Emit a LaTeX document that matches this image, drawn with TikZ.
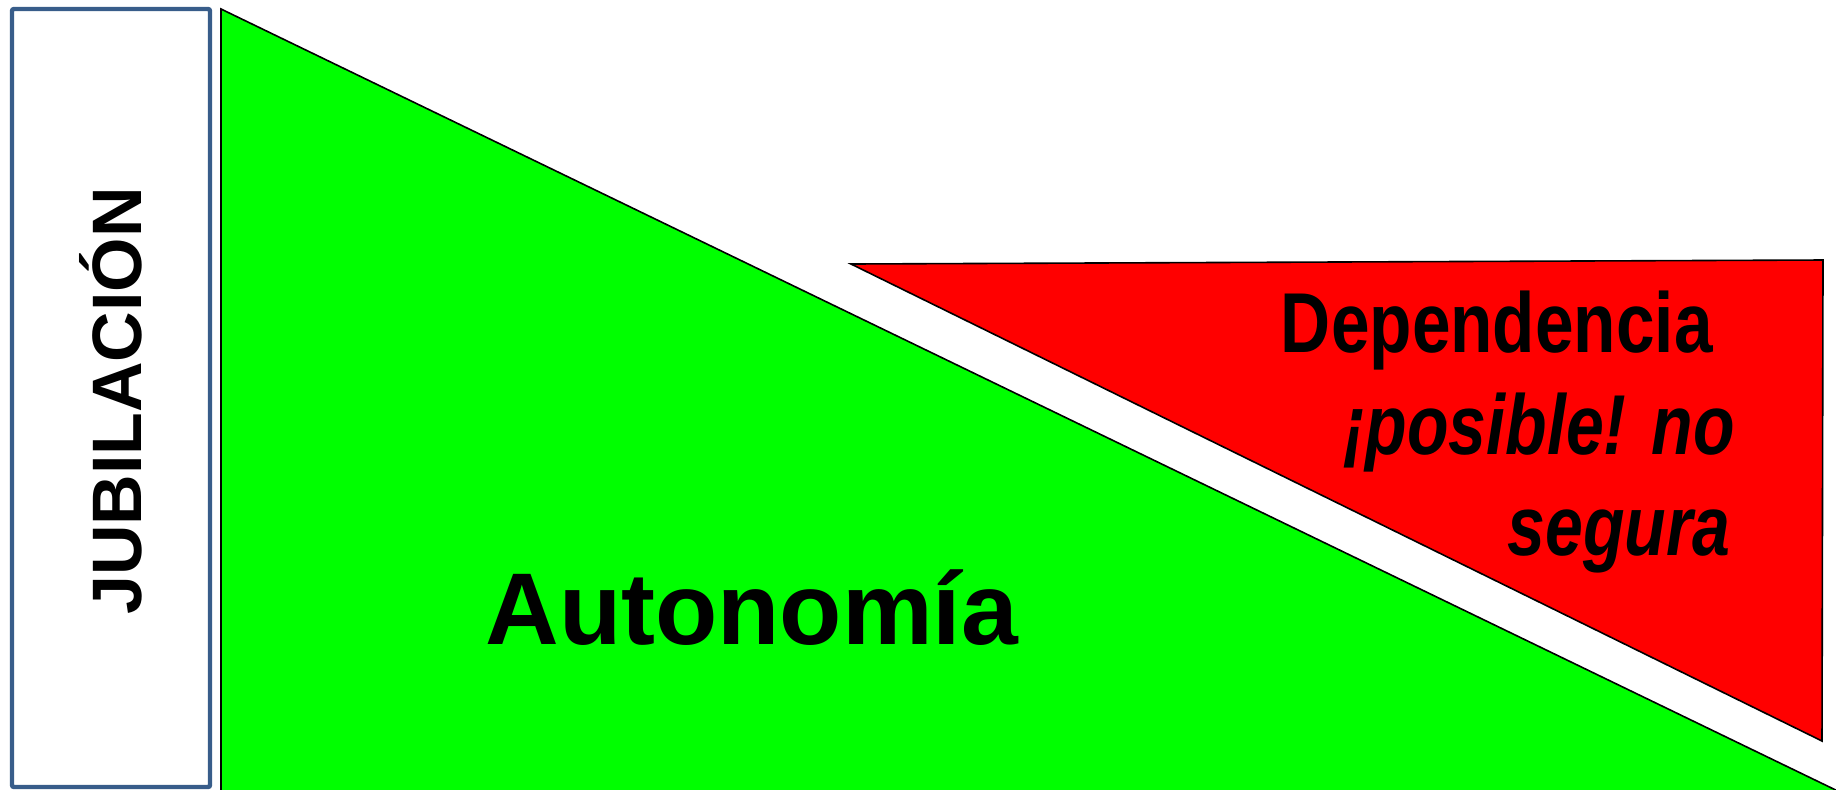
\documentclass[tikz,border=0pt]{standalone}
\usepackage{fontspec}
\setmainfont{Liberation Sans}
\usepackage{tikz}
\usetikzlibrary{positioning}
\definecolor{jubblue}{RGB}{56,93,138}
\definecolor{autogreen}{RGB}{0,255,0}
\definecolor{depred}{RGB}{255,0,0}

\begin{document}
\begin{tikzpicture}[x=0.5pt,y=-0.5pt,
    wedge/.style={draw=black,line width=0.8pt},
    deptext/.style={font=\fontsize{42.5}{51}\selectfont\bfseries,xscale=0.8,anchor=base east,inner sep=0pt}]
  \useasboundingbox (0,0) rectangle (1836,789);
  % jubilacion
  \draw[jubblue,line width=2.2pt,rounded corners=1pt] (12,9) rectangle (210,787);
  \node[rotate=90,font=\fontsize{35}{40}\selectfont\bfseries] (jub) at (111,401) {JUBILACIÓN};
  % autonomia
  \fill[autogreen,wedge] (221,9) -- (1846,795) -- (221,795) -- cycle;
  \node[font=\fontsize{51}{60}\selectfont\bfseries,anchor=base west,inner sep=0pt] (auto) at (485,644) {Autonomía};
  % dependencia
  \fill[depred,wedge] (851,264) -- (1823,260) -- (1822,741) -- cycle;
  \node[deptext,xscale=1.02] (dep) at (1713,352) {Dependencia};
  \node[deptext,font=\fontsize{42.5}{51}\selectfont\bfseries\itshape] (pos) at (1735,454) {¡posible! no};
  \node[deptext,font=\fontsize{42.5}{51}\selectfont\bfseries\itshape] (seg) at (1731,555) {segura};
\end{tikzpicture}
\end{document}
